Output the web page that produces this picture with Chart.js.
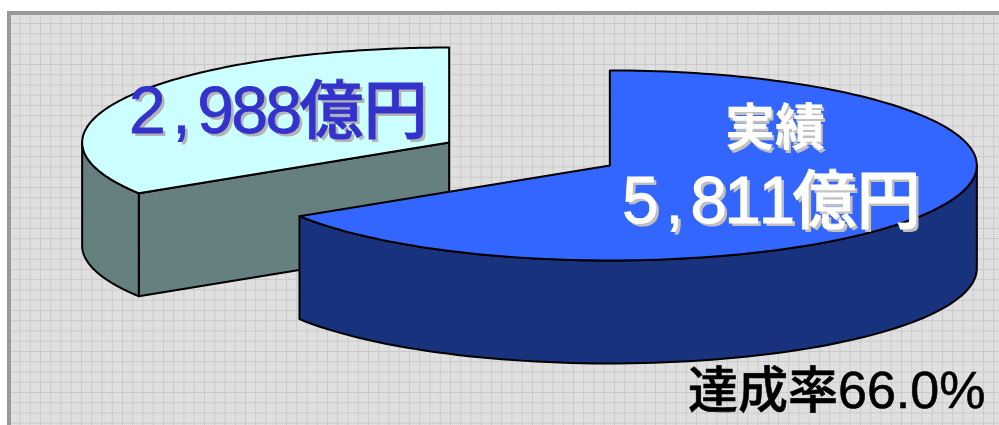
<!DOCTYPE html>
<html lang="ja">
<head>
<meta charset="utf-8">
<script src="https://cdn.jsdelivr.net/npm/chart.js@4"></script>
<style>
  html, body { margin: 0; padding: 0; background: #fff; overflow: hidden; }
  #frame {
    position: absolute; left: 7px; top: 11px; width: 992px; height: 414px;
    box-sizing: border-box;
    border-left: 4px solid #999; border-top: 4px solid #999;
    background-color: #e0e0e0;
    background-image:
      linear-gradient(to right, #c9c9c9 1px, transparent 1px),
      linear-gradient(to bottom, #c9c9c9 1px, transparent 1px),
      repeating-conic-gradient(#e3e3e3 0 25%, #dcdcdc 0 50%);
    background-size: 10.25px 10.25px, 10.25px 10.25px, 2px 2px;
    background-position: 8.5px 0, 0 8px, 0 0;
    background-origin: padding-box;
  }
  #myChart { position: absolute; left: 0; top: 0; }
  .label {
    position: absolute; white-space: nowrap; line-height: 1;
    font-family: "Noto Sans CJK JP", sans-serif;
  }
  .big { font-size: 64px; font-weight: 500; -webkit-text-stroke: 0.8px currentColor; }
  .num {
    font-family: "Liberation Sans", sans-serif; font-size: 66px; font-weight: 400;
    letter-spacing: -2.6px; font-kerning: none;
  }
  .comma { margin: 0 9.2px; }
  #planLabel { left: 129px; top: 73px; color: #3333cc; text-shadow: 3px 3px 0 #b4b4b4; }
  #actualName { left: 725px; top: 98px; font-size: 50px; font-weight: 700; color: #fff; text-shadow: 2px 3px 0 #c0c0c0; }
  #actualLabel { left: 622px; top: 163px; color: #fff; text-shadow: 3px 3px 0 #c0c0c0; }
  #rateLabel { left: 688px; top: 361px; font-size: 50px; font-weight: 500; color: #000; -webkit-text-stroke: 0.6px #000; }
  #rateLabel .rate { font-family: "Liberation Sans", sans-serif; font-weight: 400; font-size: 52px; }
</style>
</head>
<body>
<div id="frame"></div>
<canvas id="myChart" width="999" height="425"></canvas>
<div class="label" id="actualName"></div>
<div class="label big" id="actualLabel"></div>
<div class="label big" id="planLabel"></div>
<div class="label" id="rateLabel"></div>

<script>
// actual vs remaining to plan (oku yen)
var sliceNames = ["実績", "残り"];
var sliceValues = [5811, 2988];
var topColors = ["#3366ff", "#ccffff"];
var wallColors = ["#19327e", "#667f7f"];

// pie is squashed into an ellipse, slices pulled apart and extruded
var centerX = 529.5;
var centerY = 154;
var radiusX = 367;
var radiusY = 95;
var depth = 103;
var explode = 0.25; // share of the radius

var pie3d = {
  id: "pie3d",
  beforeDatasetDraw: function (chart, args) {
    var ctx = chart.ctx;
    var arcs = args.meta.data;

    // where the tip of a slice lands on screen
    function tip(arc) {
      var mid = (arc.startAngle + arc.endAngle) / 2;
      return {
        x: centerX + Math.cos(mid) * explode * radiusX,
        y: centerY + Math.sin(mid) * explode * radiusY
      };
    }

    // rim point of a slice at the given angle, dropped down by some pixels
    function rim(arc, angle, drop) {
      var t = tip(arc);
      return {
        x: t.x + Math.cos(angle) * radiusX,
        y: t.y + Math.sin(angle) * radiusY + drop
      };
    }

    function paint(color) {
      ctx.closePath();
      ctx.fillStyle = color;
      ctx.fill();
      ctx.stroke();
    }

    // side wall along one straight edge of a slice
    function flatWall(arc, angle, color) {
      var t = tip(arc);
      var a = rim(arc, angle, 0);
      var b = rim(arc, angle, depth);
      ctx.beginPath();
      ctx.moveTo(t.x, t.y);
      ctx.lineTo(a.x, a.y);
      ctx.lineTo(b.x, b.y);
      ctx.lineTo(t.x, t.y + depth);
      paint(color);
    }

    // wall along the rim, front half of the ellipse only
    function rimWall(arc, color) {
      var from = Math.max(arc.startAngle, 0);
      var to = Math.min(arc.endAngle, Math.PI);
      if (to <= from) return;
      var steps = 80;
      ctx.beginPath();
      for (var i = 0; i <= steps; i++) {
        var p = rim(arc, from + (to - from) * i / steps, 0);
        if (i === 0) ctx.moveTo(p.x, p.y); else ctx.lineTo(p.x, p.y);
      }
      for (var j = steps; j >= 0; j--) {
        var q = rim(arc, from + (to - from) * j / steps, depth);
        ctx.lineTo(q.x, q.y);
      }
      paint(color);
    }

    function outline(arc) {
      var t = tip(arc);
      var steps = 160;
      ctx.beginPath();
      ctx.moveTo(t.x, t.y);
      for (var i = 0; i <= steps; i++) {
        var p = rim(arc, arc.startAngle + (arc.endAngle - arc.startAngle) * i / steps, 0);
        ctx.lineTo(p.x, p.y);
      }
      ctx.closePath();
      ctx.stroke();
    }

    ctx.save();
    ctx.strokeStyle = "#000";
    ctx.lineWidth = 2;
    ctx.lineJoin = "round";

    // back slice first so the blue one sits over it
    [1, 0].forEach(function (i) {
      var arc = arcs[i];
      var t = tip(arc);
      if (Math.cos(arc.startAngle) < -1e-6) flatWall(arc, arc.startAngle, wallColors[i]);
      if (Math.cos(arc.endAngle) > 1e-6) flatWall(arc, arc.endAngle, wallColors[i]);
      rimWall(arc, wallColors[i]);

      // the library fills the top, under the squash transform
      ctx.save();
      ctx.translate(t.x, t.y);
      ctx.scale(radiusX / arc.outerRadius, radiusY / arc.outerRadius);
      ctx.translate(-arc.x, -arc.y);
      arc.draw(ctx);
      ctx.restore();

      outline(arc);
    });

    ctx.restore();
    return false;
  }
};

new Chart("myChart", {
  type: "pie",
  data: {
    labels: sliceNames,
    datasets: [{
      data: sliceValues,
      backgroundColor: topColors,
      borderWidth: 0
    }]
  },
  options: {
    responsive: false,
    animation: false,
    events: [],
    plugins: {
      legend: { display: false },
      tooltip: { enabled: false },
      title: { display: false }
    }
  },
  plugins: [pie3d]
});

function okuYen(v) {
  var digits = v.toLocaleString("en-US").replace(",", '<span class="comma">,</span>');
  return '<span class="num">' + digits + "</span>億円";
}
var total = sliceValues[0] + sliceValues[1];
document.getElementById("actualName").textContent = sliceNames[0];
document.getElementById("actualLabel").innerHTML = okuYen(sliceValues[0]);
document.getElementById("planLabel").innerHTML = okuYen(sliceValues[1]);
document.getElementById("rateLabel").innerHTML = '達成率<span class="rate">' + (sliceValues[0] / total * 100).toFixed(1) + "%</span>";
</script>
</body>
</html>
